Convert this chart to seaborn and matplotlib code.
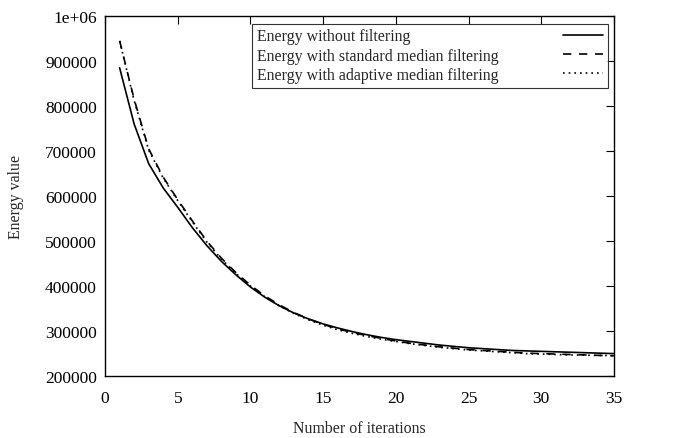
import pandas as pd
import matplotlib
matplotlib.use("Agg")
import matplotlib.pyplot as plt
import seaborn as sns

# iterations and energy values
iterations = list(range(1, 36))
energy_plain = [885000, 760000, 672000, 618000, 575000, 530000, 490000, 455000, 425000, 398000,
                375000, 356000, 340000, 327000, 316000, 307000, 299000, 292000, 286000, 281000,
                277000, 273000, 269000, 266000, 263000, 261000, 259000, 257000, 256000, 255000,
                254000, 253000, 252000, 251000, 250000]
energy_standard = [945000, 815000, 705000, 642000, 592000, 545000, 500000, 462000, 430000, 402000,
                   378000, 358000, 341000, 327000, 315000, 305000, 297000, 290000, 284000, 278000,
                   273000, 269000, 265000, 262000, 259000, 257000, 255000, 253000, 251000, 250000,
                   249000, 248000, 247000, 246000, 245000]
energy_adaptive = [945000, 812000, 702000, 640000, 590000, 543000, 498000, 460000, 428000, 400000,
                   376000, 356000, 339000, 325000, 313000, 303000, 295000, 288000, 282000, 277000,
                   272000, 268000, 264000, 261000, 258000, 256000, 254000, 252000, 250000, 249000,
                   248000, 247000, 246500, 246000, 245500]

labels = ["Energy without filtering",
          "Energy with standard median filtering",
          "Energy with adaptive median filtering"]

df = pd.DataFrame({"it": iterations, "plain": energy_plain,
                   "standard": energy_standard, "adaptive": energy_adaptive})

sns.set_style("white")
plt.rcParams['font.family'] = ['Liberation Serif', 'DejaVu Serif']
tick_fs = 12.5
lab_fs = 11.4

fig = plt.figure(figsize=(6.96, 4.39), dpi=100)
ax = fig.add_axes([0.151, 0.141, 0.731, 0.820])

sns.lineplot(data=df, x="it", y="plain", ax=ax, color="black", lw=1.2,
             linestyle="-", label=labels[0])
sns.lineplot(data=df, x="it", y="standard", ax=ax, color="black", lw=1.2,
             linestyle=(0, (5, 4.6)), label=labels[1])
sns.lineplot(data=df, x="it", y="adaptive", ax=ax, color="black", lw=1.2,
             linestyle=(0, (1, 2.4)), label=labels[2])

ax.set_xlim(0, 35)
ax.set_ylim(200000, 1000000)
ax.set_xticks(range(0, 36, 5))
yt = list(range(200000, 1000001, 100000))
ax.set_yticks(yt)
ax.set_yticklabels([str(v) for v in yt[:-1]] + ["1e+06"])
ax.tick_params(direction="in", length=6, width=0.8, top=True, right=True,
               labelsize=tick_fs, pad=6, colors="black")
ax.tick_params(axis="x", pad=10)
for s in ax.spines.values():
    s.set_color("black")
    s.set_linewidth(1.0)

ax.set_xlabel("Number of iterations", fontsize=lab_fs, labelpad=10)
ax.set_ylabel("Energy value", fontsize=lab_fs, labelpad=15)

leg = ax.legend(loc="upper right", bbox_to_anchor=(0.988, 0.979), markerfirst=False,
                frameon=True, fancybox=False, fontsize=lab_fs, handlelength=2.55,
                borderpad=0.3, labelspacing=0.2, handletextpad=1.0, borderaxespad=0.0)
leg.get_frame().set_edgecolor("black")
leg.get_frame().set_linewidth(0.8)

# left-align the texts while keeping the line samples on the right
fig.canvas.draw()
texts = leg.get_texts()
widths = [t.get_window_extent().width * 72 / fig.dpi for t in texts]
wmax = max(widths)
rows = leg._legend_handle_box.get_children()[0].get_children()
for row, w in zip(rows, widths):
    row.sep = 46.0 + (wmax - w)

fig.savefig("out.png", dpi=100)
